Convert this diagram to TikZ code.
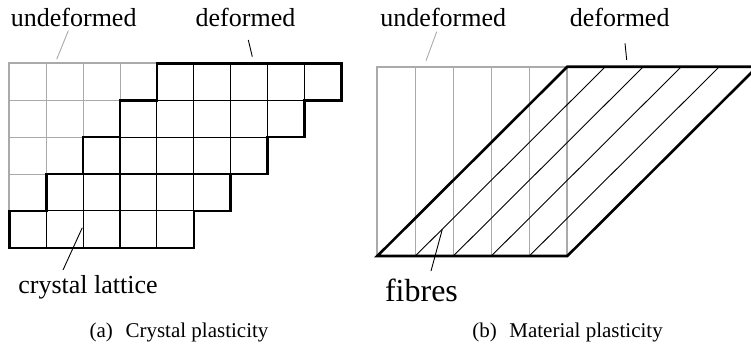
\documentclass[tikz,border=0pt]{standalone}
\usepackage{fontspec}
\setmainfont{Liberation Serif}
\usetikzlibrary{positioning}
\definecolor{latticeGray}{HTML}{AAAAAA}

\begin{document}
\begin{tikzpicture}[x=1pt, y=-1pt,
    tag/.style={anchor=base, inner sep=0pt, font=\fontsize{26}{30}\selectfont},
    bigtag/.style={anchor=base, inner sep=0pt, font=\fontsize{32}{36}\selectfont},
    caption/.style={anchor=base, inner sep=0pt, font=\fontsize{21}{25}\selectfont},
    undefline/.style={draw=latticeGray, line width=0.9pt},
    undefedge/.style={draw=latticeGray, line width=2pt},
    defline/.style={draw=black, line width=1.1pt},
    defedge/.style={draw=black, line width=2.6pt, line join=miter},
    leader/.style={draw=black, line width=0.9pt},
  ]
  \useasboundingbox (0,0) rectangle (751,345);

  % (a) crystal lattice
  \begin{scope}[shift={(9.3,63.3)}, x=36.9pt, y=-36.9pt]
    \foreach \i in {1,...,4} {
      \draw[undefline] (\i,0) -- (\i,5);
      \draw[undefline] (0,\i) -- (5,\i);
    }
    \draw[undefedge] (0,4) -- (0,0) -- (4,0);
    \foreach \r in {0,...,4} {
      \foreach \c in {1,...,4}
        \draw[defline] ({4-\r+\c},\r) -- ({4-\r+\c},\r+1);
    }
    \foreach \r in {1,...,4}
      \draw[defline] ({5-\r},\r) -- ({9-\r},\r);
    \draw[defedge] (4,0) -- (9,0) -- (9,1) -- (8,1) -- (8,2) -- (7,2)
      -- (7,3) -- (6,3) -- (6,4) -- (5,4) -- (5,5) -- (0,5) -- (0,4)
      -- (1,4) -- (1,3) -- (2,3) -- (2,2) -- (3,2) -- (3,1) -- (4,1) -- cycle;
  \end{scope}

  \node[tag] (undefA) at (73.7,27) {undeformed};
  \node[tag] (defA) at (245.5,27) {deformed};
  \node[tag] (latticeA) at (88,293.5) {crystal lattice};
  \node[caption] (capA) at (179,337) {(a)\hspace{0.35em} Crystal plasticity};

  \coordinate (undefA-top) at (68.3,30.7);
  \coordinate (undefA-end) at (56.7,59.3);
  \coordinate (defA-top) at (248.3,40);
  \coordinate (defA-end) at (252.3,56.7);
  \coordinate (latticeA-top) at (63,270);
  \coordinate (latticeA-end) at (82.3,227.7);
  \draw[leader, draw=latticeGray] (undefA-top) -- (undefA-end);
  \draw[leader] (defA-top) -- (defA-end);
  \draw[leader] (latticeA-top) -- (latticeA-end);

  % (b) material with fibres
  \begin{scope}[shift={(377.3,66.7)}, x=38pt, y=-37.86pt]
    \foreach \i in {1,...,4}
      \draw[undefline] (\i,0) -- (\i,5);
    \draw[undefedge] (0,0) rectangle (5,5);
    \foreach \i in {1,...,4}
      \draw[draw=black, line width=0.9pt] (\i,5) -- (\i+5,0);
    \draw[defedge] (0,5) -- (5,5) -- (10,0) -- (5,0) -- cycle;
  \end{scope}

  \node[tag] (undefB) at (443.3,27) {undeformed};
  \node[tag] (defB) at (619.7,27) {deformed};
  \node[bigtag] (fibresB) at (421.5,301.5) {fibres};
  \node[caption] (capB) at (567.5,337) {(b)\hspace{0.35em} Material plasticity};

  \coordinate (undefB-top) at (436.7,31.7);
  \coordinate (undefB-end) at (426,60.7);
  \coordinate (defB-top) at (625,43.3);
  \coordinate (defB-end) at (626.7,60);
  \coordinate (fibresB-top) at (431,271);
  \coordinate (fibresB-end) at (442.3,229.3);
  \draw[leader, draw=latticeGray] (undefB-top) -- (undefB-end);
  \draw[leader] (defB-top) -- (defB-end);
  \draw[leader] (fibresB-top) -- (fibresB-end);
\end{tikzpicture}
\end{document}
